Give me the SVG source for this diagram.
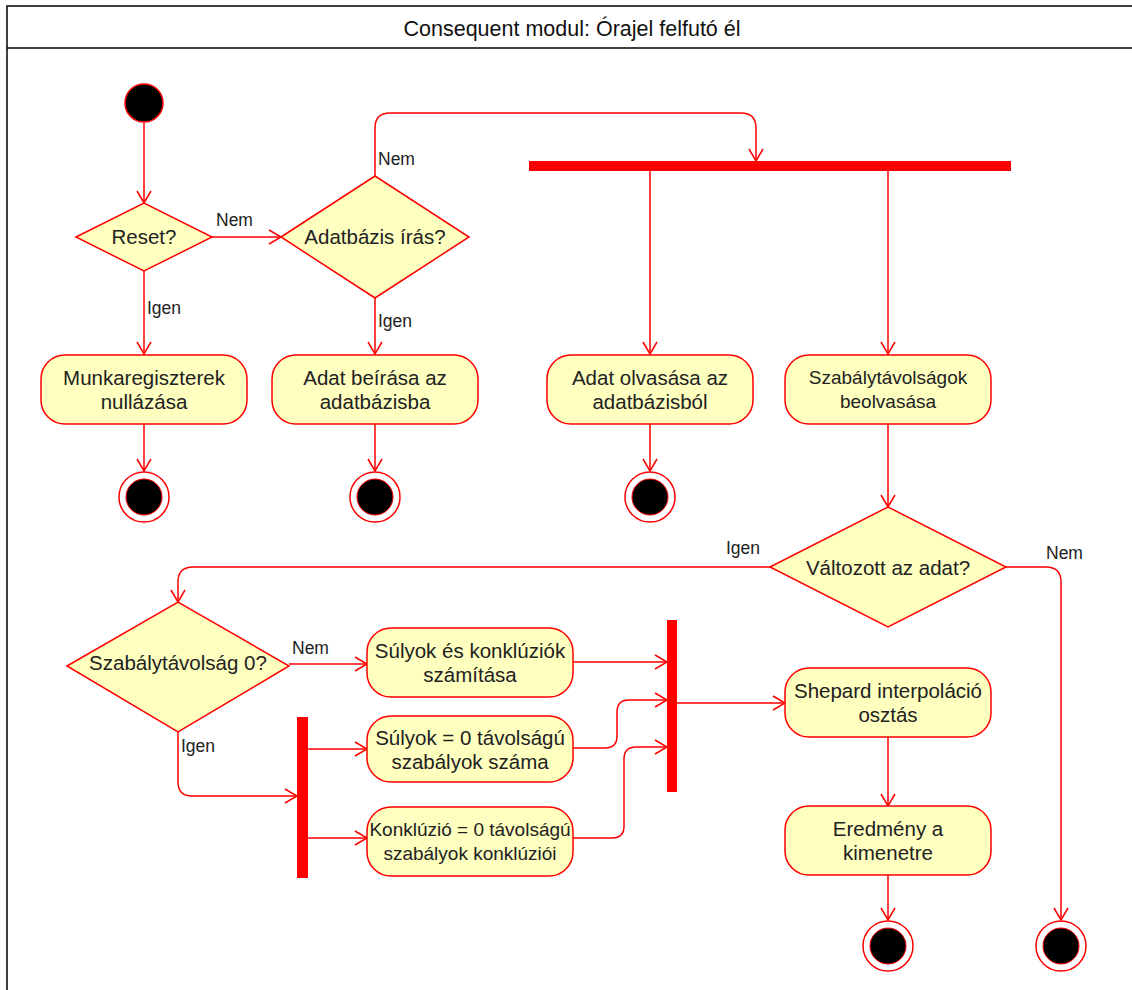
<svg xmlns="http://www.w3.org/2000/svg" width="1132" height="990" viewBox="0 0 1132 990">
<style>
.frame{fill:none;stroke:#000;stroke-width:1.5}
.title{font-family:"Liberation Sans",Arial,sans-serif;font-size:21.5px;fill:#111;text-anchor:middle}
.act{fill:#ffffc0;stroke:#ff0000;stroke-width:1.5}
.dec{fill:#ffffc0;stroke:#ff0000;stroke-width:1.5}
.lbl{font-family:"Liberation Sans",Arial,sans-serif;font-size:20.5px;fill:#222;text-anchor:middle}
.sm{font-size:19px}
.elbl{font-family:"Liberation Sans",Arial,sans-serif;font-size:17.5px;fill:#222}
.bar{fill:#ff0000}
.init{fill:#000;stroke:#ff0000;stroke-width:1.5}
.fo{fill:#fff;stroke:#ff0000;stroke-width:1.5}
.fi{fill:#000;stroke:#ff0000;stroke-width:1}
.edge{fill:none;stroke:#ff0000;stroke-width:1.5;marker-end:url(#arr)}
</style>
<defs>
<marker id="arr" markerUnits="userSpaceOnUse" markerWidth="16" markerHeight="16" viewBox="0 0 16 16" refX="14" refY="8" orient="auto">
<path d="M2,1 L14,8 L2,15" fill="none" stroke="#ff0000" stroke-width="1.5"/>
</marker>
</defs>
<rect width="1132" height="990" fill="#fff"/>
<g id="frame">
<rect class="frame" x="7" y="6" width="1140" height="1000"/>
<line class="frame" x1="7" y1="48" x2="1132" y2="48"/>
<text class="title" x="572" y="36">Consequent modul: Órajel felfutó él</text>
</g>
<g id="connectors">
<path class="edge" d="M144,123 V203"/>
<path class="edge" d="M212,237 H281"/>
<path class="edge" d="M375,176 V128 Q375,113 390,113 H741 Q756,113 756,128 V161"/>
<path class="edge" d="M144,271 V354"/>
<path class="edge" d="M375,298 V354"/>
<path class="edge" d="M144,424 V471"/>
<path class="edge" d="M375,424 V471"/>
<path class="edge" d="M650,171 V354"/>
<path class="edge" d="M888,171 V354"/>
<path class="edge" d="M650,424 V471"/>
<path class="edge" d="M888,424 V507"/>
<path class="edge" d="M770,567 H193 Q178,567 178,582 V602"/>
<path class="edge" d="M1006,567 H1046 Q1061,567 1061,582 V920"/>
<path class="edge" d="M289,664 H367"/>
<path class="edge" d="M178,732 V782 Q178,796 192,796 H297"/>
<path class="edge" d="M308,749 H367"/>
<path class="edge" d="M308,838 H367"/>
<path class="edge" d="M573,662 H667"/>
<path class="edge" d="M573,748 H605 Q617,748 617,736 V712 Q617,700 629,700 H667"/>
<path class="edge" d="M573,838 H612 Q624,838 624,826 V759 Q624,747 636,747 H667"/>
<path class="edge" d="M677,703 H785"/>
<path class="edge" d="M888,737 V806"/>
<path class="edge" d="M888,875 V920"/>
<text class="elbl" x="216" y="226">Nem</text>
<text class="elbl" x="378" y="165">Nem</text>
<text class="elbl" x="147" y="314">Igen</text>
<text class="elbl" x="378" y="327">Igen</text>
<text class="elbl" x="726" y="554">Igen</text>
<text class="elbl" x="1046" y="559">Nem</text>
<text class="elbl" x="292" y="654">Nem</text>
<text class="elbl" x="181" y="752">Igen</text>
</g>
<g id="start"><circle class="init" cx="144" cy="103" r="19"/></g>
<g id="reset"><polygon class="dec" points="76,237 144,203 212,237 144,271"/><text class="lbl" x="144" y="244">Reset?</text></g>
<g id="adatbazis-iras"><polygon class="dec" points="281,237 375,176 469,237 375,298"/><text class="lbl" x="375" y="244">Adatbázis írás?</text></g>
<g id="fork-top"><rect class="bar" x="529" y="161" width="482" height="10"/></g>
<g id="munkaregiszterek"><rect class="act" x="41" y="355" width="206" height="69" rx="24"/><text class="lbl" x="144" y="385">Munkaregiszterek</text><text class="lbl" x="144" y="409">nullázása</text></g>
<g id="adat-beirasa"><rect class="act" x="272" y="355" width="206" height="69" rx="24"/><text class="lbl" x="375" y="385">Adat beírása az</text><text class="lbl" x="375" y="409">adatbázisba</text></g>
<g id="adat-olvasasa"><rect class="act" x="547" y="355" width="206" height="69" rx="24"/><text class="lbl" x="650" y="385">Adat olvasása az</text><text class="lbl" x="650" y="409">adatbázisból</text></g>
<g id="szabalytavolsagok"><rect class="act" x="785" y="355" width="206" height="69" rx="24"/><text class="lbl sm" x="888" y="384">Szabálytávolságok</text><text class="lbl sm" x="888" y="408">beolvasása</text></g>
<g id="end1"><circle class="fo" cx="144" cy="497" r="25"/><circle class="fi" cx="144" cy="497" r="18"/></g>
<g id="end2"><circle class="fo" cx="375" cy="497" r="25"/><circle class="fi" cx="375" cy="497" r="18"/></g>
<g id="end3"><circle class="fo" cx="650" cy="497" r="25"/><circle class="fi" cx="650" cy="497" r="18"/></g>
<g id="valtozott"><polygon class="dec" points="770,567 888,507 1006,567 888,627"/><text class="lbl" x="888" y="575">Változott az adat?</text></g>
<g id="szabalytavolsag0"><polygon class="dec" points="67,666 178,602 289,666 178,732"/><text class="lbl" x="178" y="670">Szabálytávolság 0?</text></g>
<g id="sulyok-konkl"><rect class="act" x="367" y="628" width="206" height="69" rx="24"/><text class="lbl" x="470" y="658">Súlyok és konklúziók</text><text class="lbl" x="470" y="682">számítása</text></g>
<g id="fork-left"><rect class="bar" x="297" y="717" width="11" height="161"/></g>
<g id="sulyok0"><rect class="act" x="367" y="716" width="206" height="66" rx="24"/><text class="lbl" x="470" y="745">Súlyok = 0 távolságú</text><text class="lbl" x="470" y="769">szabályok száma</text></g>
<g id="konkluzio0"><rect class="act" x="367" y="807" width="206" height="69" rx="24"/><text class="lbl sm" x="470" y="836">Konklúzió = 0 távolságú</text><text class="lbl sm" x="470" y="860">szabályok konklúziói</text></g>
<g id="join-right"><rect class="bar" x="667" y="620" width="10" height="172"/></g>
<g id="shepard"><rect class="act" x="785" y="668" width="206" height="69" rx="24"/><text class="lbl" x="888" y="698">Shepard interpoláció</text><text class="lbl" x="888" y="722">osztás</text></g>
<g id="eredmeny"><rect class="act" x="785" y="806" width="206" height="69" rx="24"/><text class="lbl" x="888" y="836">Eredmény a</text><text class="lbl" x="888" y="860">kimenetre</text></g>
<g id="end4"><circle class="fo" cx="888" cy="946" r="25"/><circle class="fi" cx="888" cy="946" r="18"/></g>
<g id="end5"><circle class="fo" cx="1061" cy="946" r="25"/><circle class="fi" cx="1061" cy="946" r="18"/></g>
</svg>
